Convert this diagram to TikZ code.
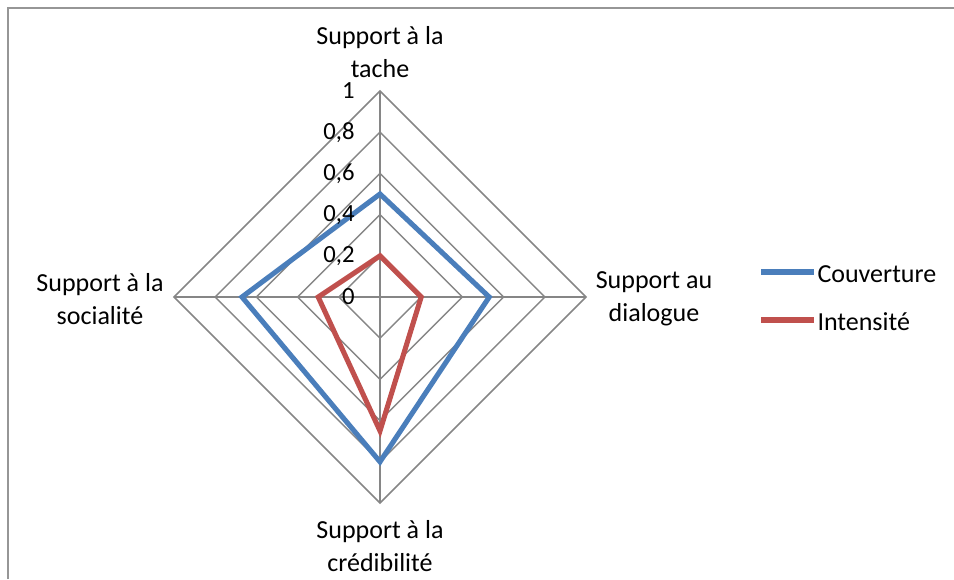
\documentclass[tikz,border=0pt]{standalone}
\usepackage{fontspec}
\setmainfont{Carlito}
\usetikzlibrary{positioning}

\definecolor{gridgray}{RGB}{134,134,134}
\definecolor{framegray}{RGB}{150,150,150}
\definecolor{couvblue}{RGB}{74,126,187}
\definecolor{intred}{RGB}{192,80,77}

\tikzset{every picture/.style={line width=0.75pt}}
\tikzset{
  axislabel/.style={align=center,inner sep=0.75pt,font=\fontsize{19.5}{24.5}\selectfont},
  ticklabel/.style={anchor=east,inner sep=0.75pt,font=\fontsize{18.5}{20}\selectfont},
  legendtext/.style={anchor=west,inner sep=0.75pt,font=\fontsize{19.5}{22}\selectfont},
  gridline/.style={color=gridgray,line width=1.1pt},
  serie/.style={line width=3.8pt,line join=miter}
}

\begin{document}
\begin{tikzpicture}[x=0.75pt,y=0.75pt,yscale=-1,xscale=1]
\useasboundingbox (0,0) rectangle (954,579);

%Frame
\draw [color=framegray,line width=1.5pt] (8,579) -- (8,8) -- (954,8) ;

%Grid rings
\foreach \r in {41.2,82.4,123.6,164.8,206} {
  \draw [gridline] (380,297-\r) -- (380+\r,297) -- (380,297+\r) -- (380-\r,297) -- cycle ;
}
%Axes
\draw [gridline] (380,91) -- (380,503) ;
\draw [gridline] (174,297) -- (586,297) ;

%Couverture
\draw [serie,color=couvblue] (380,194) -- (489.2,297) -- (380,461.8) -- (242,297) -- cycle ;
%Intensite
\draw [serie,color=intred] (380,255.8) -- (421.2,297) -- (380,430.9) -- (318.2,297) -- cycle ;

% Tick labels
\foreach \v/\t in {0/0,0.2/{0,2},0.4/{0,4},0.6/{0,6},0.8/{0,8},1/1} {
  \node [ticklabel] at (356,297-206*\v) {\t};
}

% Axis labels
\node [axislabel] (tache) at (380,52) {Support à la\\tache};
\node [axislabel] (dialogue) at (654,299) {Support au\\dialogue};
\node [axislabel] (credibilite) at (380,546) {Support à la\\crédibilité};
\node [axislabel] (socialite) at (100,299) {Support à la\\socialité};

% Legend
\coordinate (lgb) at (761,272);
\coordinate (lgr) at (761,320);
\draw [color=couvblue,line width=3.8pt] (lgb) -- ++(53,0) coordinate (lgbend) ;
\draw [color=intred,line width=3.8pt] (lgr) -- ++(53,0) coordinate (lgrend) ;
\node [legendtext] (couverture) at (816,274) {Couverture};
\node [legendtext] (intensite) at (816,322) {Intensité};

\end{tikzpicture}
\end{document}
